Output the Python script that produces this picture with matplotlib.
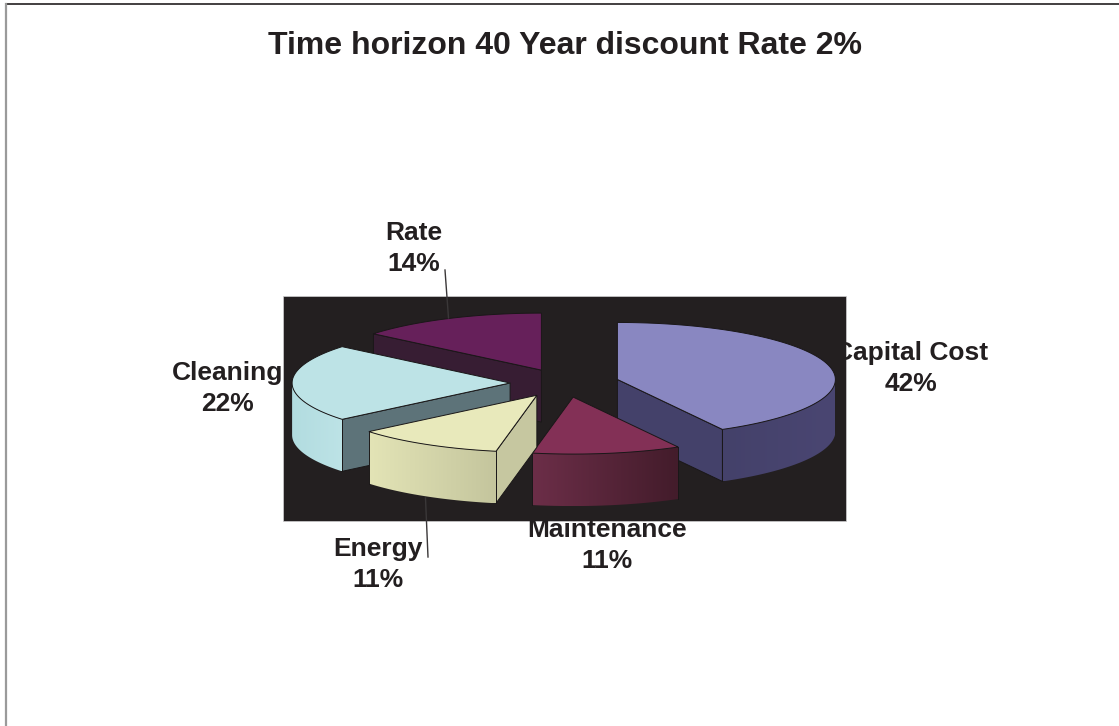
import numpy as np
import matplotlib
matplotlib.use('Agg')
import matplotlib.pyplot as plt
from matplotlib.colors import to_rgb
from matplotlib.patches import Polygon, Rectangle

plt.rcParams['font.family'] = ['Liberation Sans', 'DejaVu Sans']

TITLE = 'Time horizon 40 Year discount Rate 2%'
labels = ['Capital Cost', 'Maintenance', 'Energy', 'Cleaning', 'Rate']
shares = [42, 11, 11, 22, 14]

top_colors = ['#8987c1', '#833056', '#e8e9bb', '#bde3e6', '#66205a']
cut_colors = ['#44416a', '#44416a', '#c6c7a0', '#5d7379', '#371d33']
wall_left = ['#44416a', '#6c2e48', '#e3e4b6', '#b2dce0', '#371d33']
wall_right = ['#4a4672', '#431c2b', '#c4c59d', '#bde3e6', '#371d33']

label_pos = [(911, 353), (607, 530), (378, 549), (228, 373), (414, 233)]
leaders = {'Energy': ((425.5, 498), (428, 557)), 'Rate': ((445, 270), (448.5, 318))}

INK = '#231f20'
EDGE = '#1a1718'
CX, CY = 564.6, 383
RX, RY = 218, 57
DEPTH = 52
EXPLODE = 0.25


def rim(center, deg):
    t = np.radians(deg)
    return np.column_stack([center[0] + RX * np.sin(t), center[1] - RY * np.cos(t)])


def draw_cut(ax, center, deg, color, z):
    p = rim(center, np.array([deg]))[0]
    pts = [center, p, (p[0], p[1] + DEPTH), (center[0], center[1] + DEPTH)]
    ax.add_patch(Polygon(pts, closed=True, fc=color, ec=EDGE, lw=0.7, zorder=z))


def draw_wall(ax, center, start, end, left, right, z):
    # outer wall only shows on the front half of the ellipse
    a, b = max(start, 90), min(end, 270)
    if a >= b:
        return
    edge = rim(center, np.linspace(a, b, 80))
    outline = np.vstack([edge, edge[::-1] + [0, DEPTH]])

    ramp = np.linspace(0, 1, 128)[None, :, None]
    c0, c1 = np.array(to_rgb(left)), np.array(to_rgb(right))
    grad = c0 + (c1 - c0) * ramp
    extent = (outline[:, 0].min(), outline[:, 0].max(), outline[:, 1].max(), outline[:, 1].min())
    im = ax.imshow(grad, extent=extent, aspect='auto', interpolation='bilinear', zorder=z)
    clip = Polygon(outline, closed=True, transform=ax.transData)
    im.set_clip_path(clip)

    if a == start:
        ax.plot([edge[0, 0]] * 2, [edge[0, 1], edge[0, 1] + DEPTH], color=EDGE, lw=0.7, zorder=z + 0.1)
    if b == end:
        ax.plot([edge[-1, 0]] * 2, [edge[-1, 1], edge[-1, 1] + DEPTH], color=EDGE, lw=0.7, zorder=z + 0.1)


def draw_slice(ax, i, start, end, z):
    mid = np.radians((start + end) / 2)
    center = (CX + EXPLODE * RX * np.sin(mid), CY - EXPLODE * RY * np.cos(mid))
    if np.sin(np.radians(start)) < -1e-6:
        draw_cut(ax, center, start, cut_colors[i], z)
    if np.sin(np.radians(end)) > 1e-6:
        draw_cut(ax, center, end, cut_colors[i], z)
    draw_wall(ax, center, start, end, wall_left[i], wall_right[i], z + 0.2)
    arc = rim(center, np.linspace(start, end, 120))
    top = np.vstack([center, arc])
    ax.add_patch(Polygon(top, closed=True, fc=top_colors[i], ec=EDGE, lw=0.7, zorder=z + 0.5))


def main():
    fig = plt.figure(figsize=(11.19, 7.26), dpi=100)
    ax = fig.add_axes([0, 0, 1, 1])
    ax.axis('off')

    # frame of the chart area, only top and left are in the crop
    ax.plot([6, 1119], [4, 4], color=INK, lw=1.2)
    ax.plot([6, 6], [4, 726], color='#9a9a9a', lw=1.6)

    ax.add_patch(Rectangle((283, 296), 563, 225, fc=INK, ec='#d0d0d0', lw=0.5, zorder=1))

    edges = np.concatenate([[0], np.cumsum(shares)]) / sum(shares) * 360
    # back to front
    for z, i in enumerate([4, 0, 3, 1, 2]):
        draw_slice(ax, i, edges[i], edges[i + 1], 2 + z)

    for name, (p, q) in leaders.items():
        ax.plot([p[0], q[0]], [p[1], q[1]], color='#3a3738', lw=1.0, zorder=8)

    for name, share, pos in zip(labels, shares, label_pos):
        ax.text(pos[0], pos[1], name, ha='center', va='center', fontsize=19, fontweight='bold',
                color=INK, zorder=10)
        ax.text(pos[0], pos[1] + 31, f'{share}%', ha='center', va='center', fontsize=19,
                fontweight='bold', color=INK, zorder=10)

    ax.text(565, 46, TITLE, ha='center', va='center', fontsize=23, fontweight='bold', color=INK)

    # imshow resets the limits, so they go last
    ax.set_xlim(0, 1119)
    ax.set_ylim(726, 0)

    fig.savefig('out.png', dpi=100)


if __name__ == '__main__':
    main()
